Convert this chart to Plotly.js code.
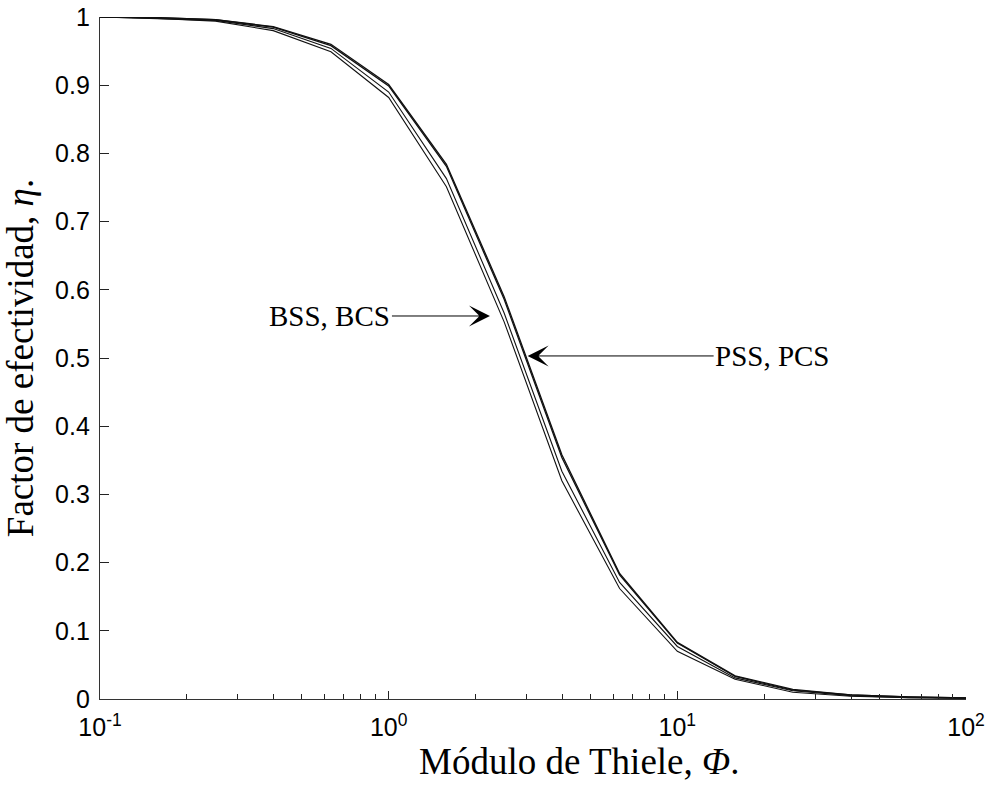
<!DOCTYPE html>
<html>
<head>
<meta charset="utf-8">
<script src="https://cdn.plot.ly/plotly-3.0.1.min.js"></script>
<style>body{margin:0;background:#fff}#chart{width:989px;height:788px}</style>
</head>
<body>
<div id="chart"></div>
<script>
// Thiele modulus sample points (5 per decade)
const phi = [0.1, 0.1585, 0.2512, 0.3981, 0.631, 1, 1.585, 2.512, 3.981, 6.31, 10, 15.85, 25.12, 39.81, 63.1, 100];
// Effectiveness factor curves
const etaPSS = [1.0, 0.999, 0.996, 0.986, 0.960, 0.901, 0.784, 0.590, 0.358, 0.184, 0.083, 0.034, 0.014, 0.006, 0.003, 0.0015];
const etaPCS = [1.0, 0.999, 0.996, 0.985, 0.958, 0.899, 0.781, 0.586, 0.354, 0.182, 0.082, 0.033, 0.013, 0.006, 0.003, 0.0015];
const etaBCS = [1.0, 0.998, 0.995, 0.983, 0.954, 0.890, 0.763, 0.566, 0.334, 0.171, 0.077, 0.031, 0.012, 0.005, 0.002, 0.001];
const etaBSS = [1.0, 0.998, 0.994, 0.980, 0.949, 0.882, 0.751, 0.553, 0.320, 0.162, 0.070, 0.029, 0.010, 0.004, 0.002, 0.001];
const curveNames = ['PSS', 'PCS', 'BCS', 'BSS'];
const yTickVals = [0, 0.1, 0.2, 0.3, 0.4, 0.5, 0.6, 0.7, 0.8, 0.9, 1];
const yTickText = ['0', '0.1', '0.2', '0.3', '0.4', '0.5', '0.6', '0.7', '0.8', '0.9', '1'];
const xTickVals = [0.1, 1, 10, 100];
const xTickText = ['10<sup>-1</sup>', '10<sup>0</sup>', '10<sup>1</sup>', '10<sup>2</sup>'];
const xMinorVals = [0.2, 0.3, 0.4, 0.5, 0.6, 0.7, 0.8, 0.9, 2, 3, 4, 5, 6, 7, 8, 9, 20, 30, 40, 50, 60, 70, 80, 90];
const labelB = 'BSS, BCS';
const labelP = 'PSS, PCS';
const arrowB = {x: 2.243, y: 0.5616};
const arrowP = {x: 3.03, y: 0.503};

const series = [etaPSS, etaPCS, etaBCS, etaBSS];
const traces = series.map((ys, i) => ({
  x: phi, y: ys, type: 'scatter', mode: 'lines', name: curveNames[i],
  line: {color: '#111', width: i < 2 ? 1.3 : 1.1}, showlegend: false, hoverinfo: 'skip'
}));

const serif = 'Liberation Serif, Times New Roman, serif';
const sans = 'Liberation Sans, Arial, sans-serif';
const pad = '&nbsp;'.repeat(10);

const layout = {
  width: 989, height: 788,
  margin: {l: 100, r: 23, t: 17, b: 89},
  paper_bgcolor: '#fff', plot_bgcolor: '#fff',
  showlegend: false,
  xaxis: {
    type: 'log', range: [-1, 2],
    tickvals: xTickVals, ticktext: xTickText,
    ticks: 'inside', ticklen: 8, tickcolor: '#222', tickwidth: 1,
    minor: {tickvals: xMinorVals, ticks: 'inside', ticklen: 5, tickcolor: '#222', tickwidth: 1, showgrid: false},
    showline: true, linecolor: '#333', linewidth: 1.2,
    showgrid: false, zeroline: false,
    tickfont: {family: sans, size: 25, color: '#000'},
    ticklabelstandoff: 6,
    title: {text: pad + 'Módulo de Thiele, <i>Φ</i>.', font: {family: serif, size: 37, color: '#000'}, standoff: 0}
  },
  yaxis: {
    range: [0, 1],
    tickvals: yTickVals, ticktext: yTickText,
    ticks: 'inside', ticklen: 9, tickcolor: '#222', tickwidth: 1,
    showline: true, linecolor: '#333', linewidth: 1.2,
    showgrid: false, zeroline: false,
    tickfont: {family: sans, size: 25, color: '#000'},
    ticklabelstandoff: 4,
    title: {text: 'Factor de efectividad, <i>η</i>.', font: {family: serif, size: 37, color: '#000'}, standoff: 10}
  },
  annotations: [
    {x: Math.log10(arrowB.x), y: arrowB.y, xref: 'x', yref: 'y', text: labelB,
     showarrow: true, ax: -160, ay: 0, arrowhead: 3, arrowsize: 3.5, arrowwidth: 1, arrowcolor: '#000',
     font: {family: serif, size: 29, color: '#000'}},
    {x: Math.log10(arrowP.x), y: arrowP.y, xref: 'x', yref: 'y', text: labelP,
     showarrow: true, ax: 245, ay: 0, arrowhead: 3, arrowsize: 3.5, arrowwidth: 1, arrowcolor: '#000',
     font: {family: serif, size: 29, color: '#000'}}
  ]
};

Plotly.newPlot('chart', traces, layout, {displayModeBar: false, staticPlot: true});
</script>
</body>
</html>
